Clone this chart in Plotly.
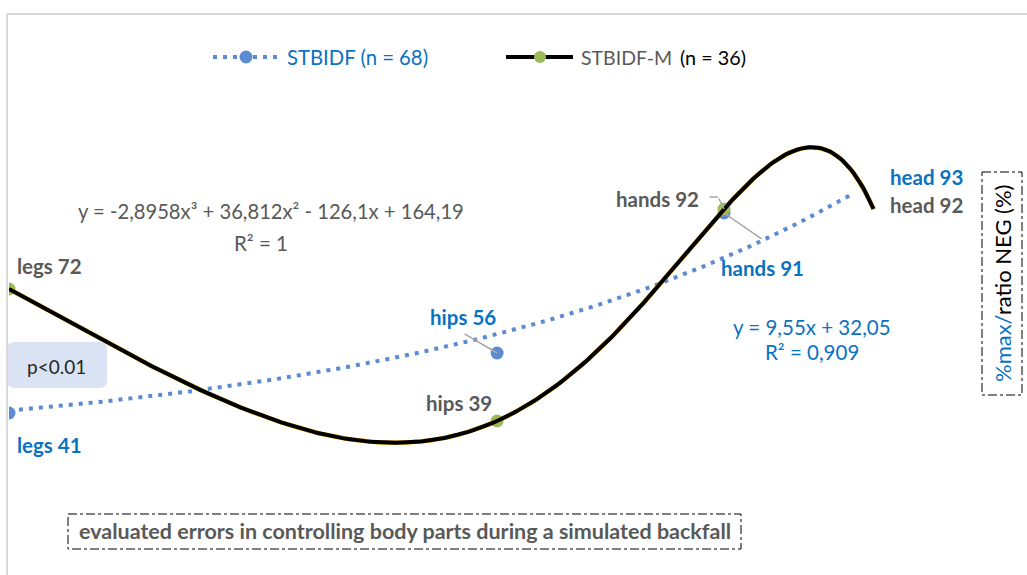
import numpy as np
import plotly.graph_objects as go

# ---- data -------------------------------------------------------------
body_parts = ["legs", "hips", "hands", "head"]
positions = [1, 3, 5, 7]
stbidf = [41, 56, 91, 93]        # STBIDF (n = 68)
stbidf_m = [72, 39, 92, 92]      # STBIDF-M (n = 36)
linear_end = 6.7                 # last x of the linear trendline

# ---- colours / fonts --------------------------------------------------
BLUE_MARK = "#5b8bd0"
GREEN_MARK = "#9bbb59"
BLUE_TXT = "#0a72c2"
GRAY_TXT = "#595959"
FONT = "Lato"

# ---- fits -------------------------------------------------------------
x_arr = np.array(positions, float)
lin = np.polyfit(x_arr, stbidf, 1)
cub = np.polyfit(x_arr, stbidf_m, 3)


def r2(coef, y):
    y = np.asarray(y, float)
    pred = np.polyval(coef, x_arr)
    return 1 - ((y - pred) ** 2).sum() / ((y - y.mean()) ** 2).sum()


def num(v, sig=5):
    return ("%.*g" % (sig, round(v, 4))).replace(".", ",")


def term(c, first=False):
    s = num(abs(c))
    if first:
        return ("-" if c < 0 else "") + s
    return (" - " if c < 0 else " + ") + s


cub_eq = ("y = " + term(cub[0], True) + "x³" + term(cub[1]) + "x²"
          + term(cub[2]) + "x" + term(cub[3]))
cub_r2 = "R² = " + num(r2(cub, stbidf_m), 3)
lin_eq = "y = " + term(lin[0], True) + "x" + term(lin[1])
lin_r2 = "R² = " + num(r2(lin, stbidf), 3)

xs_cub = np.logspace(0, np.log10(positions[-1]), 400)
xs_lin = np.logspace(0, np.log10(linear_end), 300)

# ---- plot-area geometry (pixels) ----------------------------------------
W_PX, H_PX = 1027, 575
L, R, T, B = 9, 985, 14, 575


def px(x):
    return (x - L) / (R - L)


def py(y):
    return (B - y) / (B - T)


fig = go.Figure()

# STBIDF points (the last one has no visible marker)
fig.add_trace(go.Scatter(
    x=positions, y=stbidf, mode="markers",
    marker=dict(color=BLUE_MARK, size=[13, 13, 13, 0], opacity=1,
                line=dict(width=0)),
    hoverinfo="skip", showlegend=False))

# linear trendline of STBIDF
fig.add_trace(go.Scatter(
    x=xs_lin, y=np.polyval(lin, xs_lin), mode="lines",
    line=dict(color=BLUE_MARK, width=4, dash="4px,6px"),
    hoverinfo="skip", showlegend=False))

# STBIDF-M points
fig.add_trace(go.Scatter(
    x=positions, y=stbidf_m, mode="markers",
    marker=dict(color=GREEN_MARK, size=[13, 13, 13, 0], opacity=1,
                line=dict(width=0)),
    hoverinfo="skip", showlegend=False))

# cubic trendline of STBIDF-M
fig.add_trace(go.Scatter(
    x=xs_cub, y=np.polyval(cub, xs_cub), mode="lines",
    line=dict(color="#e8b000", width=4.5),
    hoverinfo="skip", showlegend=False))
fig.add_trace(go.Scatter(
    x=xs_cub, y=np.polyval(cub, xs_cub), mode="lines",
    line=dict(color="black", width=4),
    hoverinfo="skip", showlegend=False))

ann = []


def label(i, val, text, color, dx, dy, anchor="center"):
    ann.append(dict(
        x=np.log10(positions[i]), y=val, xref="x", yref="y",
        text="<b>" + text + "</b>", showarrow=False,
        xshift=dx, yshift=dy, xanchor=anchor, yanchor="middle",
        font=dict(family=FONT, size=20.5, color=color)))


def leader(i, val, ax, ay, dx=0, dy=0):
    ann.append(dict(
        x=np.log10(positions[i]), y=val, xref="x", yref="y",
        text="", showarrow=True, arrowhead=0, arrowwidth=1.5,
        arrowcolor="#a6a6a6", ax=ax, ay=ay, standoff=0,
        xshift=dx, yshift=dy))


def note(x, y, text, color, size=20.5, anchor="center", **kw):
    ann.append(dict(x=px(x), y=py(y), xref="paper", yref="paper",
                    text=text, showarrow=False, xanchor=anchor,
                    yanchor="middle",
                    font=dict(family=FONT, size=size, color=color), **kw))


# data labels
label(0, stbidf_m[0], "legs 72", GRAY_TXT, 6, 23, "left")
label(0, stbidf[0], "legs 41", BLUE_TXT, 6, -32, "left")
label(1, stbidf[1], "hips 56", BLUE_TXT, -34, 36)
label(1, stbidf_m[1], "hips 39", GRAY_TXT, -38, 18)
label(2, stbidf_m[2], "hands 92", GRAY_TXT, -67, 10)
label(2, stbidf[2], "hands 91", BLUE_TXT, 38, -55)
label(3, stbidf[3], "head 93", BLUE_TXT, 14, 28, "left")
label(3, stbidf_m[3], "head 92", GRAY_TXT, 14, 4, "left")

# leader lines
leader(1, stbidf[1], -34, -20)
leader(2, stbidf_m[2], -6, -12)
leader(2, stbidf_m[2], -10, 0, dx=-6, dy=12)
leader(2, stbidf[2], 39, 27)

# trendline equations
note(271, 211, cub_eq, GRAY_TXT, 20.2)
note(261, 243, cub_r2, GRAY_TXT, 20.5)
note(812, 327, lin_eq, BLUE_TXT, 20.5)
note(812, 352, lin_r2, BLUE_TXT, 20.5)

# legend texts
note(285, 57, "STBIDF (n = 68)", BLUE_TXT, 20.3, "left")
note(579, 57, "STBIDF-M", GRAY_TXT, 19.5, "left")
note(678, 57, "(n = 36)", "black", 19.8, "left")

# p-value box text
note(56, 366, "p<0.01", "#262626", 19)

# vertical axis title
note(1002, 283,
     "<span style='color:%s'>%%max/</span>ratio NEG (%%)" % BLUE_TXT,
     "black", 22, textangle=-90)

# bottom caption
note(405, 531,
     "<b>evaluated errors in controlling body parts during a simulated backfall</b>",
     GRAY_TXT, 21.5)

shapes = []
# chart-area frame (top and left edges)
shapes.append(dict(type="line", xref="paper", yref="paper",
                   x0=px(7), x1=px(1027), y0=py(14), y1=py(14),
                   line=dict(color="#d9d9d9", width=2)))
shapes.append(dict(type="line", xref="paper", yref="paper",
                   x0=px(7), x1=px(7), y0=py(14), y1=py(575),
                   line=dict(color="#d9d9d9", width=2)))

# legend symbols
shapes.append(dict(type="line", xref="paper", yref="paper",
                   x0=px(213), x1=px(279), y0=py(57), y1=py(57),
                   line=dict(color=BLUE_MARK, width=4, dash="4px,6px")))
shapes.append(dict(type="circle", xref="paper", yref="paper",
                   x0=px(239.5), x1=px(252.5), y0=py(50.5), y1=py(63.5),
                   fillcolor=BLUE_MARK, line=dict(width=0)))
shapes.append(dict(type="line", xref="paper", yref="paper",
                   x0=px(506), x1=px(573), y0=py(57), y1=py(57),
                   line=dict(color="black", width=4)))
shapes.append(dict(type="circle", xref="paper", yref="paper",
                   x0=px(534), x1=px(546), y0=py(51), y1=py(63),
                   fillcolor=GREEN_MARK, line=dict(width=0)))

# p-value rounded box
x0, x1, y0, y1, r = px(7), px(107), py(342), py(388), 8
rx, ry = r / (R - L), r / (B - T)
shapes.append(dict(
    type="path", xref="paper", yref="paper",
    path=(f"M {x0+rx},{y0} L {x1-rx},{y0} Q {x1},{y0} {x1},{y0-ry} "
          f"L {x1},{y1+ry} Q {x1},{y1} {x1-rx},{y1} L {x0+rx},{y1} "
          f"Q {x0},{y1} {x0},{y1+ry} L {x0},{y0-ry} Q {x0},{y0} {x0+rx},{y0} Z"),
    fillcolor="#dae3f3", line=dict(width=0), layer="below"))

# dash-dot frames around axis title and caption
shapes.append(dict(type="rect", xref="paper", yref="paper",
                   x0=px(982), x1=px(1022), y0=py(172), y1=py(395),
                   line=dict(color="black", width=1, dash="dashdot")))
shapes.append(dict(type="rect", xref="paper", yref="paper",
                   x0=px(68), x1=px(741), y0=py(514), y1=py(549),
                   line=dict(color="black", width=1, dash="dashdot")))

fig.update_layout(
    width=W_PX, height=H_PX,
    margin=dict(l=L, r=W_PX - R, t=T, b=H_PX - B, pad=0),
    paper_bgcolor="white", plot_bgcolor="rgba(0,0,0,0)",
    showlegend=False,
    xaxis=dict(type="log", range=[0, (R - L) / 1023.0], visible=False),
    yaxis=dict(range=[41 - (B - 413) / 4.0, 41 + (413 - T) / 4.0], visible=False),
    annotations=ann, shapes=shapes,
)

fig.write_html("out.html")
